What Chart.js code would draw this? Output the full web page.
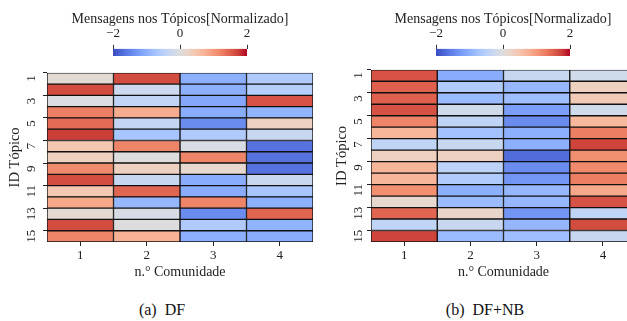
<!DOCTYPE html>
<html>
<head>
<meta charset="utf-8">
<script src="https://cdn.jsdelivr.net/npm/chart.js@4.4.0/dist/chart.umd.min.js"></script>
<style>
html, body { margin: 0; padding: 0; overflow: hidden; background: #fff; }
body { width: 627px; height: 321px; position: relative; }
canvas { position: absolute; }
.cap { position: absolute; top: 300px; width: 200px; text-align: center; font-family: "Liberation Serif", serif; font-size: 16px; line-height: 20px; color: #111; white-space: pre; }
</style>
</head>
<body>
<canvas id="cbarA" width="240" height="58" style="left:60px;top:0"></canvas>
<canvas id="cbarB" width="240" height="58" style="left:383px;top:0"></canvas>
<canvas id="heatA" width="320" height="225" style="left:0;top:60px"></canvas>
<canvas id="heatB" width="330" height="225" style="left:320px;top:60px"></canvas>
<div class="cap" style="left:62px">(a)  DF</div>
<div class="cap" style="left:385px">(b)  DF+NB</div>
<script>
// categories
const topics = ['1','2','3','4','5','6','7','8','9','10','11','12','13','14','15'];
const communities = [1, 2, 3, 4];
const colorTicks = [-2, 0, 2];
const colorRange = [-2, 2];

// DF - normalized messages per topic, one array per community
const dfCom1 = [0.1, 1.65, -0.05, 1.25, 1.4, 1.75, 0.45, 0.3, 1.15, 1.65, 0.45, 0.85, 0.1, 1.65, 1.2];
const dfCom2 = [1.65, -0.25, -0.4, 0.8, -0.35, -0.7, 1.2, 0.0, 0.3, -0.3, 1.45, -0.9, -0.1, 0.0, 0.75];
const dfCom3 = [-1.0, -1.0, -1.1, -1.05, -1.4, -0.6, -0.1, 1.2, 0.15, -1.05, -1.05, 1.2, -1.4, -0.6, -1.0];
const dfCom4 = [-0.6, -0.55, 1.6, -0.95, 0.3, -0.3, -1.65, -1.65, -1.65, -0.3, -0.7, -1.0, 1.45, -0.95, -1.05];

// DF+NB
const nbCom1 = [1.6, 1.5, 1.5, 1.6, 1.2, 0.7, -0.4, 0.3, 0.7, 0.7, 1.1, 0.15, 1.45, -0.4, 1.7];
const nbCom2 = [-1.05, -0.6, -0.85, -0.2, -0.4, -0.75, -0.3, 0.3, -0.45, -0.6, -1.0, -0.85, 0.2, -0.3, -0.85];
const nbCom3 = [-0.3, -0.9, -0.8, -1.2, -1.4, -1.0, -1.0, -1.7, -1.4, -1.3, -0.9, -0.9, -1.3, -0.9, -0.8];
const nbCom4 = [-0.2, 0.3, 0.4, -0.2, 0.65, 1.25, 1.7, 1.1, 1.15, 1.25, 0.85, 1.6, -0.4, 1.65, -0.3];

const serif = '"Liberation Serif", "DejaVu Serif", serif';
const ink = '#222';

//coolwarm colormap (matplotlib), sampled every 1/16
const coolwarmStops = [
    [59,76,192],[77,104,215],[98,130,234],[119,154,247],[141,176,254],[163,194,255],
    [184,208,249],[204,217,238],[221,221,221],[236,211,197],[245,196,173],[247,177,148],
    [244,154,123],[236,127,99],[222,96,77],[203,62,56],[180,4,38]
];
function coolwarm(v){
    let t = (v - colorRange[0]) / (colorRange[1] - colorRange[0]);
    t = Math.max(0, Math.min(1, t));
    const pos = t * (coolwarmStops.length - 1);
    const i = Math.min(Math.floor(pos), coolwarmStops.length - 2);
    const f = pos - i;
    const a = coolwarmStops[i], b = coolwarmStops[i + 1];
    const c = a.map((x, k) => Math.round(x + (b[k] - x) * f));
    return `rgb(${c[0]},${c[1]},${c[2]})`;
}

// invisible side axes just to leave room for the full-width title
const spacer = (w) => ({
    type: 'category',
    labels: [''],
    afterFit: (s) => { s.width = w; },
    ticks: { display: false },
    grid: { display: false },
    border: { display: false }
});

function colorbar(id){
    new Chart(document.getElementById(id), {
        type: 'bar',
        data: {
            labels: [''],
            datasets: [{
                data: [colorRange],
                backgroundColor: (context) => {
                    const area = context.chart.chartArea;
                    if (!area) return 'rgba(0,0,0,0)';
                    const g = context.chart.ctx.createLinearGradient(area.left, 0, area.right, 0);
                    coolwarmStops.forEach((c, i) => g.addColorStop(i / (coolwarmStops.length - 1), `rgb(${c[0]},${c[1]},${c[2]})`));
                    return g;
                },
                borderWidth: 0,
                barPercentage: 1,
                categoryPercentage: 1
            }]
        },
        options: {
            responsive: false,
            animation: false,
            indexAxis: 'y',
            layout: { padding: { left: 0, right: 0, top: 0, bottom: 2 } },
            plugins: {
                legend: { display: false },
                tooltip: { enabled: false },
                title: {
                    display: true,
                    text: 'Mensagens nos Tópicos[Normalizado]',
                    color: ink,
                    font: { family: serif, size: 14, weight: 'normal', lineHeight: 1.2 },
                    padding: { top: 11, bottom: 0 }
                }
            },
            scales: {
                x: {
                    type: 'linear',
                    position: 'top',
                    min: colorRange[0],
                    max: colorRange[1],
                    afterBuildTicks: (s) => { s.ticks = colorTicks.map(v => ({ value: v })); },
                    afterFit: (s) => { s.height = 21; },
                    grid: { drawOnChartArea: false, tickLength: 4, color: '#333' },
                    border: { display: false },
                    ticks: {
                        padding: 3,
                        color: ink,
                        font: { family: serif, size: 13 },
                        callback: (v) => v < 0 ? '\u2212' + Math.abs(v) : String(v)
                    }
                },
                y: spacer(53),
                y2: Object.assign(spacer(53), { position: 'right' })
            }
        }
    });
}

function heatmap(id, columns, yWidth, padRight, tickPad, titlePad){
    new Chart(document.getElementById(id), {
        type: 'bar',
        data: {
            labels: topics,
            datasets: columns.map((vals, c) => ({
                data: vals.map(() => [communities[c] - 0.5, communities[c] + 0.5]),
                backgroundColor: vals.map(coolwarm),
                borderColor: '#111',
                borderWidth: 1,
                borderSkipped: false,
                grouped: false,
                barPercentage: 1,
                categoryPercentage: 1
            }))
        },
        options: {
            responsive: false,
            animation: false,
            indexAxis: 'y',
            layout: { padding: { top: 7, right: padRight, left: 0, bottom: 0 } },
            plugins: { legend: { display: false }, tooltip: { enabled: false } },
            scales: {
                x: {
                    type: 'linear',
                    min: 0.5,
                    max: 4.5,
                    afterBuildTicks: (s) => { s.ticks = communities.map(v => ({ value: v })); },
                    afterFit: (s) => { s.height = 43; },
                    grid: { drawOnChartArea: false, tickLength: 4, color: ink },
                    border: { display: false },
                    ticks: { padding: 2, color: ink, font: { family: serif, size: 13 } },
                    title: {
                        display: true,
                        text: 'n.° Comunidade',
                        color: ink,
                        font: { family: serif, size: 14 },
                        padding: { top: 0, bottom: 4 }
                    }
                },
                y: {
                    type: 'category',
                    afterFit: (s) => { s.width = yWidth; },
                    grid: {
                        drawOnChartArea: false,
                        tickLength: 4,
                        tickColor: (ctx) => ctx.index % 2 === 0 ? ink : 'rgba(0,0,0,0)'
                    },
                    border: { display: false },
                    ticks: {
                        autoSkip: false,
                        minRotation: 90,
                        maxRotation: 90,
                        crossAlign: 'center',
                        padding: tickPad,
                        color: ink,
                        font: { family: serif, size: 13 },
                        callback: (v, i) => i % 2 === 0 ? topics[i] : ''
                    },
                    title: {
                        display: true,
                        text: 'ID Tópico',
                        color: ink,
                        font: { family: serif, size: 14.5 },
                        padding: { top: titlePad, bottom: 0 }
                    }
                }
            }
        }
    });
}

colorbar('cbarA');
colorbar('cbarB');
heatmap('heatA', [dfCom1, dfCom2, dfCom3, dfCom4], 47, 7, 5, 6);
heatmap('heatB', [nbCom1, nbCom2, nbCom3, nbCom4], 51, 14, 2, 13);
</script>
</body>
</html>
